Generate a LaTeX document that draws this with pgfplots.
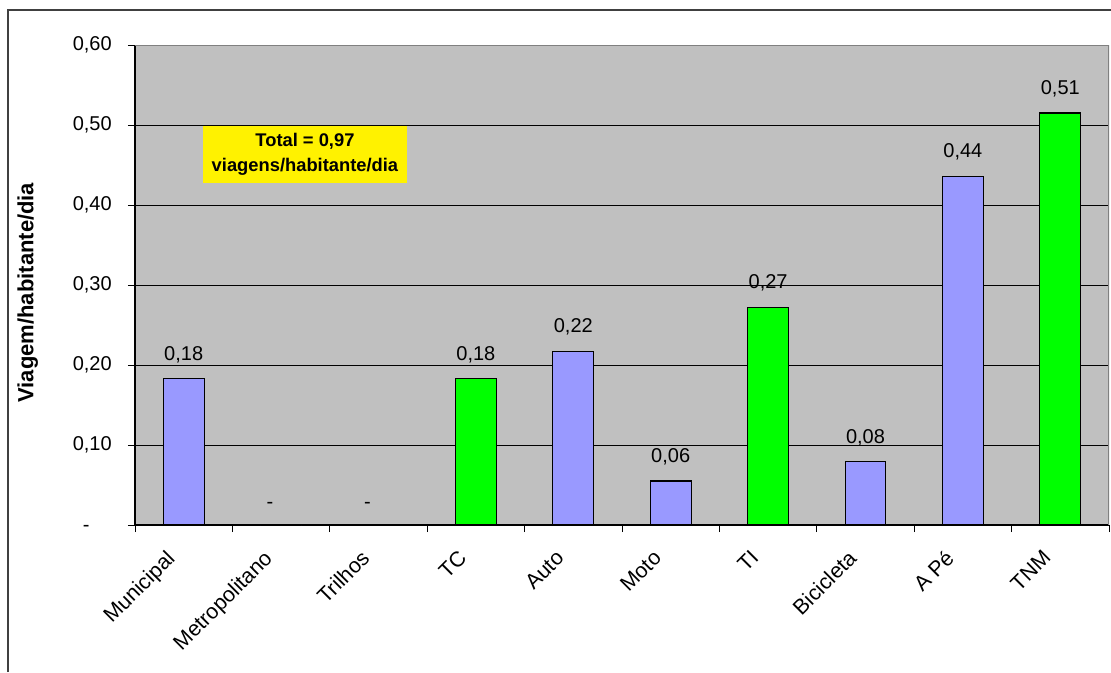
\documentclass[border=0pt]{standalone}
\usepackage{pgfplots}
\pgfplotsset{compat=1.18}
\usepackage{pgfplotstable}
\usepackage{fontspec}
\setmainfont{Liberation Sans}
\definecolor{barblue}{HTML}{9999FF}
\definecolor{bargreen}{HTML}{00FF00}
\definecolor{plotgray}{HTML}{C0C0C0}
\definecolor{frameline}{HTML}{404040}
\definecolor{bordergray}{HTML}{808080}

\pgfplotstableread{
x y lab
0 0.183 0,18
1 0 -\phantom{00}
2 0 -\phantom{00}
4 0.217 0,22
5 0.055 0,06
7 0.079 0,08
8 0.436 0,44
}\bluedata
\pgfplotstableread{
x y lab
3 0.183 0,18
6 0.272 0,27
9 0.515 0,51
}\greendata

\begin{document}
\begin{tikzpicture}
\useasboundingbox (0pt,0pt) rectangle (833.25pt,504pt);
\draw[line width=0.9pt, frameline] (6pt,0pt) -- (6pt,496.5pt) -- (833.25pt,496.5pt);
\begin{axis}[
  at={(101.25pt,110.25pt)}, anchor=south west,
  scale only axis, width=730.5pt, height=360pt,
  xmin=-0.5, xmax=9.5, ymin=0, ymax=0.6,
  axis background/.style={fill=plotgray},
  axis x line*=bottom, axis y line*=left,
  axis line style={-, black, line width=0.8pt},
  ybar, bar shift=0pt, bar width=0.42,
  tick align=outside,
  major tick length=5.25pt,
  tick style={black, line width=0.6pt},
  xtick={-0.5,0.5,1.5,2.5,3.5,4.5,5.5,6.5,7.5,8.5,9.5},
  xticklabels={},
  extra x ticks={0,1,2,3,4,5,6,7,8,9},
  extra x tick labels={Municipal,Metropolitano,Trilhos,TC,Auto,Moto,TI,Bicicleta,A Pé,TNM},
  extra x tick style={tick style={draw=none}},
  xticklabel style={xshift=-14pt, yshift=-12.5pt, rotate=45, anchor=north east, inner sep=0pt, font=\fontsize{16}{19}\selectfont},
  ytick={0,0.1,0.2,0.3,0.4,0.5,0.6},
  yticklabels={{-\phantom{00}},{0,10},{0,20},{0,30},{0,40},{0,50},{0,60}},
  yticklabel style={anchor=east, inner sep=0pt, xshift=-12pt, font=\fontsize{15}{18}\selectfont},
  /pgf/number format/assume math mode=true,
  ymajorgrids, major grid style={black, line width=0.6pt},
  ylabel={Viagem/habitante/dia},
  every axis y label/.style={at={(axis description cs:-0.11,0.484)}, rotate=90, anchor=center, font=\bfseries\fontsize{16.5}{20}\selectfont},
  nodes near coords,
  point meta=explicit symbolic,
  every node near coord/.append style={font=\fontsize{15}{18}\selectfont, inner sep=0pt, anchor=south, yshift=11.5pt, black},
]
\addplot[fill=barblue, draw=black, line width=0.8pt] table[x=x, y=y, meta=lab] {\bluedata};
\addplot[fill=bargreen, draw=black, line width=0.8pt] table[x=x, y=y, meta=lab] {\greendata};
\draw[bordergray, line width=0.8pt] (rel axis cs:0,1) -- (rel axis cs:1,1) -- (rel axis cs:1,0);
\node[fill=yellow, minimum width=153pt, minimum height=42.75pt, align=center, inner sep=0pt, font=\bfseries\fontsize{13.75}{18.75}\selectfont] at (axis cs:1.245,0.4635) {Total = 0,97\\viagens/habitante/dia};
\end{axis}
\end{tikzpicture}
\end{document}
